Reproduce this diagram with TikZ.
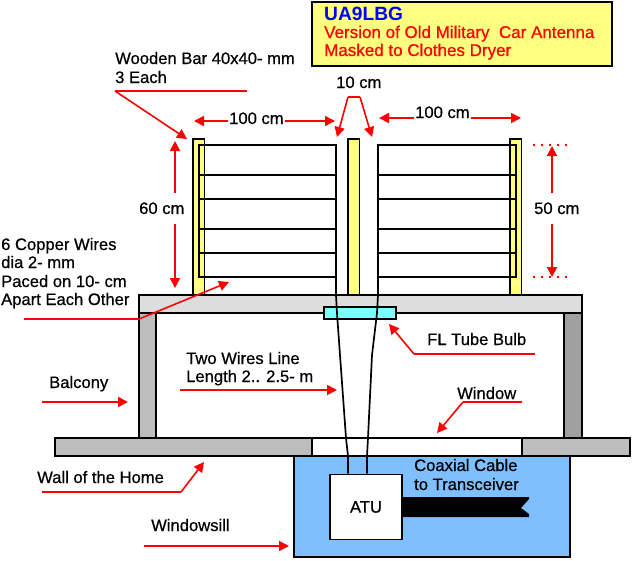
\documentclass[tikz,border=0pt]{standalone}
\usepackage{fontspec}
\setmainfont{Liberation Sans}
\newfontfamily\plainlbl{Liberation Sans}[RawFeature={embolden=0.6}]
\usetikzlibrary{arrows.meta}
\definecolor{noteyellow}{RGB}{255,255,128}
\definecolor{barfill}{RGB}{255,255,128}
\definecolor{slabgray}{RGB}{221,221,221}
\definecolor{wallgray}{RGB}{189,189,189}
\definecolor{darkgray}{RGB}{160,160,160}
\definecolor{sillblue}{RGB}{128,191,255}
\definecolor{tubecyan}{RGB}{128,255,255}
\tikzset{
    part/.style={draw=black,line width=1.7pt},
    lbl/.style={inner sep=0pt,anchor=base west,align=left,font=\plainlbl\fontsize{16.6}{18.7}\selectfont},
    dimlbl/.style={inner sep=1.5pt,anchor=base west,font=\plainlbl\fontsize{16.6}{18.7}\selectfont},
    redline/.style={red,line width=1.6pt},
    redarrow/.style={redline,-{Triangle[length=10pt,width=10pt]}},
    reddots/.style={red,line width=1.6pt,dash pattern=on 2pt off 6pt}
}
\begin{document}
\begin{tikzpicture}[x=1pt,y=-1pt]
    \useasboundingbox (0,0) rectangle (632,560);
    % Title note
    \draw[part,fill=noteyellow] (312,2) rectangle (612,66);
    \node[lbl,font=\fontsize{19.2}{20}\selectfont\bfseries,text=blue] (titlecall) at (324,20) {UA9LBG};
    \node[lbl,text=red,font=\plainlbl\fontsize{17}{19}\selectfont] (titleone) at (324,38) {Version of Old Military~ Car Antenna};
    \node[lbl,text=red,font=\plainlbl\fontsize{17}{19}\selectfont] (titletwo) at (324,56) {Masked to Clothes Dryer};

    % Wooden bars
    \foreach \x in {193,348,510} {
        \draw[part,fill=barfill] (\x,139) rectangle (\x+11.5,295);
    }
    % Copper wires on both sides
    \draw[part] (199,145) rectangle (336,277);
    \draw[part] (378,145) rectangle (516,277);
    \foreach \y in {175,199,229,253} {
        \draw[part] (199,\y) -- (336,\y);
        \draw[part] (378,\y) -- (516,\y);
    }

    % Balcony
    \draw[part,fill=wallgray] (139,313) rectangle (156,438);
    \draw[part,fill=darkgray] (564,313) rectangle (582,438);
    \draw[part,fill=slabgray] (139,295) rectangle (582,313);
    \draw[part,fill=tubecyan] (324,307) rectangle (396,319);

    % Windowsill and wall
    \draw[part,fill=sillblue] (294,456) rectangle (570,557);
    \draw[part,fill=wallgray] (55,438) rectangle (630,456);
    \draw[part,fill=white] (312,438) rectangle (522,456);

    % ATU and coax
    \node[part,fill=white,minimum width=72pt,minimum height=65pt,inner sep=0pt,
        font=\plainlbl\fontsize{16.6}{18}\selectfont] (atu) at (366,507) {ATU};
    \fill[black] (atu.east |- 0,497) -- (529,497) -- (529,499) -- (521,508)
        -- (529,514) -- (529,517) -- (atu.east |- 0,517) -- cycle;

    % Two wires line
    \draw[part] (336,277) -- (336,295) -- (337,313) -- (340,355) -- (346,438)
        -- (348,456) -- (atu.north -| 348,0);
    \draw[part] (378,277) -- (378,295) -- (377,313) -- (372,355) -- (368,438)
        -- (367,456) -- (atu.north -| 367,0);

    % Labels with leaders
    \node[lbl] (woodlbl) at (115,64) {Wooden Bar 40x40- mm};
    \node[lbl] (woodtwo) at (115,83) {3 Each};
    \coordinate (woodA) at (115,91);
    \coordinate (woodB) at (247,91);
    \coordinate (woodC) at (187,139);
    \draw[redline] (woodB) -- (woodA);
    \draw[redarrow] (woodA) -- (woodC);

    \node[lbl] (wireone) at (1,250) {6 Copper Wires};
    \node[lbl] (wiretwo) at (1,268) {dia 2- mm};
    \node[lbl] (wirethree) at (1,287) {Paced on 10- cm};
    \node[lbl] (wirefour) at (1,305) {Apart Each Other};
    \coordinate (wireA) at (24,319);
    \coordinate (wireB) at (139,319);
    \coordinate (wireC) at (229,282);
    \draw[redline] (wireA) -- (wireB);
    \draw[redarrow] (wireB) -- (wireC);

    \node[lbl] (balclbl) at (49,388) {Balcony};
    \coordinate (balcA) at (42,402);
    \coordinate (balcB) at (128,402);
    \draw[redarrow] (balcA) -- (balcB);

    \node[lbl] (lineone) at (186,364) {Two Wires Line};
    \node[lbl] (linetwo) at (186,382) {Length 2.. 2.5- m};
    \coordinate (lineA) at (180,390);
    \coordinate (lineB) at (337,390);
    \draw[redarrow] (lineA) -- (lineB);

    \node[lbl] (tubelbl) at (427,345) {FL Tube Bulb};
    \coordinate (tubeA) at (535,354);
    \coordinate (tubeB) at (414,354);
    \coordinate (tubeC) at (389,324);
    \draw[redline] (tubeA) -- (tubeB);
    \draw[redarrow] (tubeB) -- (tubeC);

    \node[lbl] (winlbl) at (457,399) {Window};
    \coordinate (winA) at (522,402);
    \coordinate (winB) at (463,402);
    \coordinate (winC) at (437,433);
    \draw[redline] (winA) -- (winB);
    \draw[redarrow] (winB) -- (winC);

    \node[lbl] (walllbl) at (37,483) {Wall of the Home};
    \coordinate (wallA) at (42,492);
    \coordinate (wallB) at (181,492);
    \coordinate (wallC) at (204,462);
    \draw[redline] (wallA) -- (wallB);
    \draw[redarrow] (wallB) -- (wallC);

    \node[lbl] (silllbl) at (151,531) {Windowsill};
    \coordinate (sillA) at (144,546);
    \coordinate (sillB) at (289,546);
    \draw[redarrow] (sillA) -- (sillB);

    \node[lbl] (coaxone) at (414,471) {Coaxial Cable};
    \node[lbl] (coaxtwo) at (414,490) {to Transceiver};

    % Dimensions
    \node[dimlbl] (widthL) at (227.5,124) {100 cm};
    \coordinate (widthLa) at (194,121);
    \coordinate (widthLb) at (335,121);
    \draw[redarrow] (widthL.west |- widthLa) -- (widthLa);
    \draw[redarrow] (widthL.east |- widthLb) -- (widthLb);

    \node[dimlbl] (widthR) at (413.5,118) {100 cm};
    \coordinate (widthRa) at (379,118);
    \coordinate (widthRb) at (521,118);
    \draw[redarrow] (widthR.west |- widthRa) -- (widthRa);
    \draw[redarrow] (widthR.east |- widthRb) -- (widthRb);

    \node[lbl] (gaplbl) at (336,88) {10 cm};
    \coordinate (gapA) at (348,97);
    \coordinate (gapB) at (360,97);
    \coordinate (gapC) at (337,137);
    \coordinate (gapD) at (372,137);
    \draw[redline] (gapA) -- (gapB);
    \draw[redarrow] (gapA) -- (gapC);
    \draw[redarrow] (gapB) -- (gapD);

    \node[lbl] (heightL) at (139,214) {60 cm};
    \coordinate (heightLa) at (175,141);
    \coordinate (heightLb) at (175,288);
    \draw[redarrow] (175,193) -- (heightLa);
    \draw[redarrow] (175,224) -- (heightLb);

    \node[lbl] (heightR) at (534,214) {50 cm};
    \coordinate (heightRa) at (552,146);
    \coordinate (heightRb) at (552,277);
    \draw[redarrow] (552,193) -- (heightRa);
    \draw[redarrow] (552,224) -- (heightRb);
    \foreach \y in {145,277} {
        \draw[reddots] (533,\y) -- (570,\y);
    }
\end{tikzpicture}
\end{document}
